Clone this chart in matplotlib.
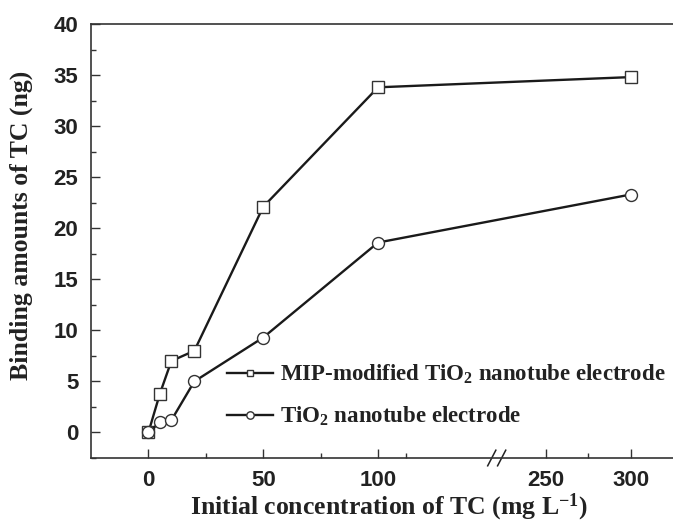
import numpy as np
import matplotlib
matplotlib.use('Agg')
import matplotlib.pyplot as plt
from matplotlib.ticker import FixedLocator

plt.rcParams['mathtext.fontset'] = 'custom'
plt.rcParams['mathtext.rm'] = 'Liberation Serif:bold'
plt.rcParams['mathtext.bf'] = 'Liberation Serif:bold'
plt.rcParams['mathtext.it'] = 'Liberation Serif:bold'

# Data: binding amounts vs initial concentration
conc = [0, 5, 10, 20, 50, 100, 300]
mip_binding = [0, 3.8, 7.0, 8.0, 22.1, 33.8, 34.8]
tio2_binding = [0, 1.0, 1.2, 5.0, 9.3, 18.6, 23.3]
x_major = [0, 50, 100, 250, 300]
x_minor = [25, 75, 125, 275]
y_major = [0, 5, 10, 15, 20, 25, 30, 35, 40]

# Broken x axis: 0-100 linear, 100-250 squeezed, 250+ at a smaller scale
T250 = 173.0
K = 1.7 / 2.3


def fwd(x):
    x = np.asarray(x, dtype=float)
    return np.where(x <= 100, x,
                    np.where(x < 250, 100 + (x - 100) * (T250 - 100) / 150,
                             T250 + (x - 250) * K))


def inv(y):
    y = np.asarray(y, dtype=float)
    return np.where(y <= 100, y,
                    np.where(y < T250, 100 + (y - 100) * 150 / (T250 - 100),
                             250 + (y - T250) / K))


fig = plt.figure(figsize=(6.73, 5.28), dpi=100)
ax = fig.add_axes([91 / 673, 1 - 458 / 528, 582 / 673, 434 / 528])
ax.set_xscale('function', functions=(fwd, inv))

line_col = '#1a1a1a'
ax.plot(conc, mip_binding, '-', color=line_col, lw=1.7, marker='s', ms=8.0,
        mfc='white', mec='#333333', mew=1.0,
        label=r'MIP-modified TiO$_2$ nanotube electrode')
ax.plot(conc, tio2_binding, '-', color=line_col, lw=1.7, marker='o', ms=8.6,
        mfc='white', mec='#333333', mew=1.0,
        label=r'TiO$_2$ nanotube electrode')

ax.set_xlim(-25, 325)
ax.set_ylim(-2.5, 40)
ax.xaxis.set_major_locator(FixedLocator(x_major))
ax.xaxis.set_minor_locator(FixedLocator(x_minor))
ax.set_xticklabels([str(v) for v in x_major])
ax.yaxis.set_major_locator(FixedLocator(y_major))
ax.yaxis.set_minor_locator(FixedLocator(np.arange(-2.5, 40, 5)))

for s in ['left', 'bottom', 'top']:
    ax.spines[s].set_color('#333333')
    ax.spines[s].set_linewidth(1.2)
ax.spines['right'].set_visible(False)

ax.tick_params(which='major', direction='in', length=6.5, width=1.0,
               color='#333333', pad=9, labelsize=16)
ax.tick_params(which='minor', direction='in', length=3.5, width=1.0,
               color='#333333')
ax.tick_params(top=False, right=False, which='both')
for lab in ax.get_xticklabels() + ax.get_yticklabels():
    lab.set_family('Liberation Sans')
    lab.set_fontweight('bold')
    lab.set_color('#222222')

# Break marks on the x axis
bx = (497 - 91) / 582
for dx in (-0.009, 0.008):
    ax.plot([bx + dx - 0.007, bx + dx + 0.007], [-0.018, 0.018],
            transform=ax.transAxes, color='#222222', lw=1.1, clip_on=False)

ax.set_xlabel(r'Initial concentration of TC (mg L$^{\mathbf{-1}}$)',
              family='Liberation Serif', fontweight='bold', fontsize=18.5,
              color='#222222')
ax.set_ylabel('Binding amounts of TC (ng)', family='Liberation Serif',
              fontweight='bold', fontsize=18.5, color='#222222')
ax.xaxis.set_label_coords((389 - 91) / 582, -0.078)
ax.yaxis.set_label_coords(-0.100, 0.537)

leg = ax.legend(loc='upper left', bbox_to_anchor=(227 / 673, 1 - 363 / 528),
                bbox_transform=fig.transFigure, frameon=False,
                prop={'family': 'Liberation Serif', 'weight': 'bold', 'size': 16.5},
                markerscale=0.62, handlelength=2.0, handletextpad=0.3,
                labelspacing=0.8, borderaxespad=0, borderpad=0)
for t in leg.get_texts():
    t.set_color('#222222')

fig.savefig('out.png', dpi=100, facecolor='white')
